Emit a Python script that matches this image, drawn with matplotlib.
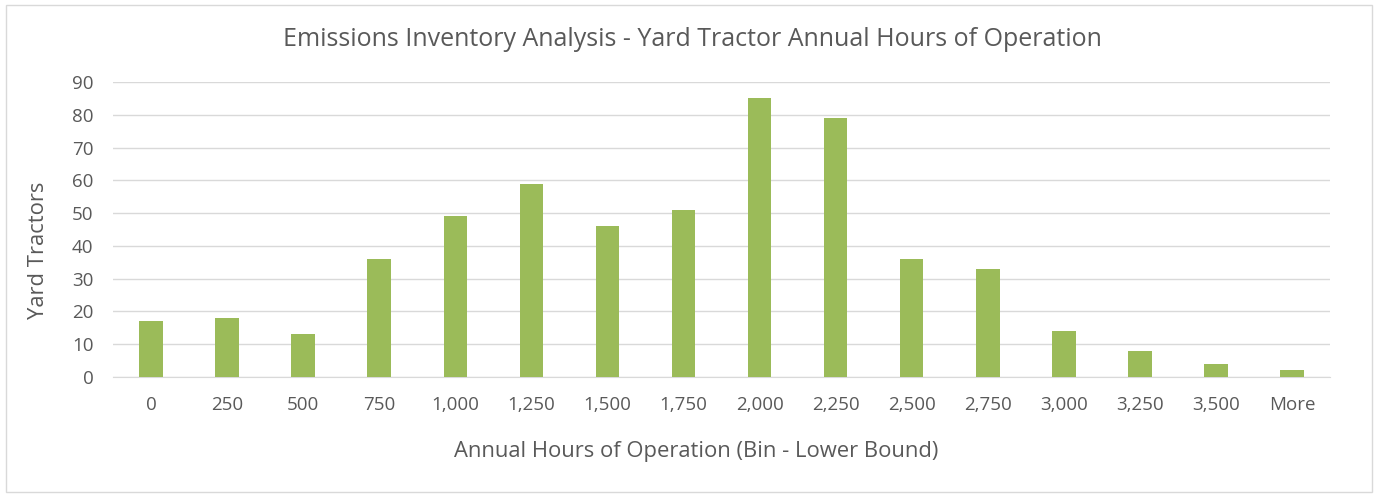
import matplotlib
matplotlib.use("Agg")
import matplotlib.pyplot as plt
from matplotlib.patches import Rectangle

# Histogram bins (lower bound) and counts
bins = ["0", "250", "500", "750", "1,000", "1,250", "1,500", "1,750",
        "2,000", "2,250", "2,500", "2,750", "3,000", "3,250", "3,500", "More"]
counts = [17, 18, 13, 36, 49, 59, 46, 51, 85, 79, 36, 33, 14, 8, 4, 2]

plt.rcParams["font.family"] = ["Open Sans", "DejaVu Sans"]
text_color = "#595959"
grid_color = "#D9D9D9"

fig = plt.figure(figsize=(13.8, 4.97), dpi=100)
ax = fig.add_axes([0.0819, 0.2414, 0.8819, 0.5936])

x = range(len(bins))
ax.bar(x, counts, width=0.31, color="#9BBB59", zorder=3)

ax.set_xlim(-0.5, len(bins) - 0.5)
ax.set_ylim(0, 90)
ax.set_yticks(range(0, 91, 10))
ax.set_xticks(list(x))
ax.set_xticklabels(bins)
ax.tick_params(axis="both", length=0, labelsize=13.5, colors=text_color)
ax.tick_params(axis="x", pad=14)
ax.tick_params(axis="y", pad=14)
ax.grid(axis="y", color=grid_color, linewidth=1, zorder=0)
for side in ["top", "right", "left"]:
    ax.spines[side].set_visible(False)
ax.spines["bottom"].set_color(grid_color)

fig.text(696 / 1380, 1 - 452 / 497, "Annual Hours of Operation (Bin - Lower Bound)",
         ha="center", va="center", fontsize=15.8, color=text_color)
fig.text(38 / 1380, 1 - 250 / 497, "Yard Tractors", rotation=90,
         ha="center", va="center", fontsize=15.8, color=text_color)
fig.text(692 / 1380, 1 - 40 / 497,
         "Emissions Inventory Analysis - Yard Tractor Annual Hours of Operation",
         ha="center", va="center", fontsize=18, color=text_color)

# outer chart border
fig.patches.append(Rectangle((6 / 1380, 5 / 497), 1366 / 1380, 487 / 497,
                             transform=fig.transFigure, fill=False,
                             edgecolor=grid_color, linewidth=1))

fig.savefig("out.png", dpi=100)
plt.close(fig)
